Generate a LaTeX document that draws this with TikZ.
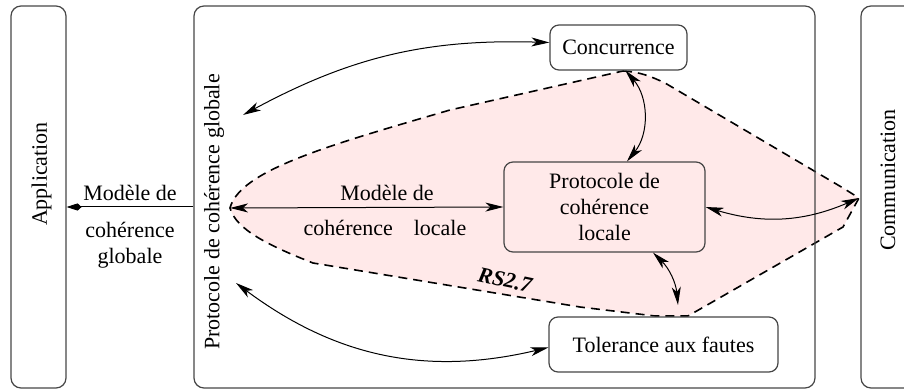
\documentclass[tikz,border=0pt]{standalone}
\usepackage{fontspec}
\setmainfont{Liberation Serif}
\usepackage{xcolor}
\definecolor{lightpink}{RGB}{255,233,233}
\definecolor{edgegray}{RGB}{70,70,70}
\usepackage{tikz}
\usetikzlibrary{arrows.meta,positioning}

\begin{document}
\begin{tikzpicture}[x=0.5pt,y=-0.5pt,
    font=\fontsize{11}{13}\selectfont,
    layer/.style={draw=edgegray, rounded corners=5pt, line width=0.6pt},
    block/.style={draw=edgegray, rounded corners=4.5pt, line width=0.6pt, align=center},
    link/.style={{Stealth[length=9pt,width=4.5pt,inset=2.5pt]}-{Stealth[length=9pt,width=4.5pt,inset=2.5pt]}, line width=0.5pt},
    zone/.style={fill=lightpink, draw=black, dash pattern=on 4.5pt off 3pt, line width=0.8pt}]
\useasboundingbox (0,0) rectangle (904,389);

\path[zone] (623,71) .. controls (640,72) and (650,76) .. (665,83) -- (843,188) -- (859,198)
    -- (843,227) -- (688,316) -- (655,316) -- (580,307) -- (313,263)
    .. controls (270,246) and (236,230) .. (230,208)
    .. controls (240,170) and (330,145) .. (450,110) -- cycle;

\node[layer, minimum width=27.5pt, minimum height=191pt] (app) at (38.5,197) {};
\node[layer, minimum width=310.5pt, minimum height=191pt] (mid) at (504.5,197) {};
\node[layer, minimum width=49.5pt, minimum height=191pt] (com) at (910.5,197) {};

\node[rotate=90] (applabel) at (41.5,174) {Application};
\node[rotate=90] (midlabel) at (214,212) {Protocole de cohérence globale};
\node[rotate=90] (comlabel) at (888,180) {Communication};

\node[block, fill=white, minimum width=68.5pt, minimum height=22.5pt] (conc) at (618.5,47.5) {Concurrence};
\node[block, fill=lightpink, minimum width=100.5pt, minimum height=45pt] (loc) at (604.5,207) {Protocole de\\cohérence\\locale};
\node[block, fill=white, minimum width=114.5pt, minimum height=27.5pt] (tol) at (663.5,344.5) {Tolerance aux fautes};

\coordinate (gtip) at (230,208);
\coordinate (ctop) at (243,115);
\coordinate (cbot) at (236,283);
\coordinate (tsrc) at (678,305);
\coordinate (rtip) at (859,198);
\coordinate (gm) at (130,207);

\draw[-{Kite[length=7.5pt,width=3.6pt,inset=2pt]}, line width=0.5pt] (gm -| mid.west) -- (gm -| app.east);
\node (gmtop) at (130,193) {Modèle de};
\node[align=center] (gmbot) at (130,245) {cohérence\\globale};

\draw[link] (gtip) -- (loc.west);
\node (lmtop) at (387,193) {Modèle de};
\node (lmbot) at (385,228) {cohérence\hspace{0.7em} locale};

\draw[link] ([yshift=2.5pt]conc.west) to[bend right=15] (ctop);
\draw[link] ([yshift=-1.5pt]tol.west) to[bend left=25] (cbot);
\draw[link] ([xshift=3.5pt]conc.south) to[bend left=40] ([xshift=11.25pt]loc.north);
\draw[link] ([xshift=24.25pt]loc.south) to[bend left=20] (tsrc);
\draw[link] (loc.east) to[bend right=20] (rtip);

\node[rotate=-12, font=\fontsize{11}{13}\selectfont\bfseries\itshape] (rs) at (505,280) {RS2.7};
\end{tikzpicture}
\end{document}
